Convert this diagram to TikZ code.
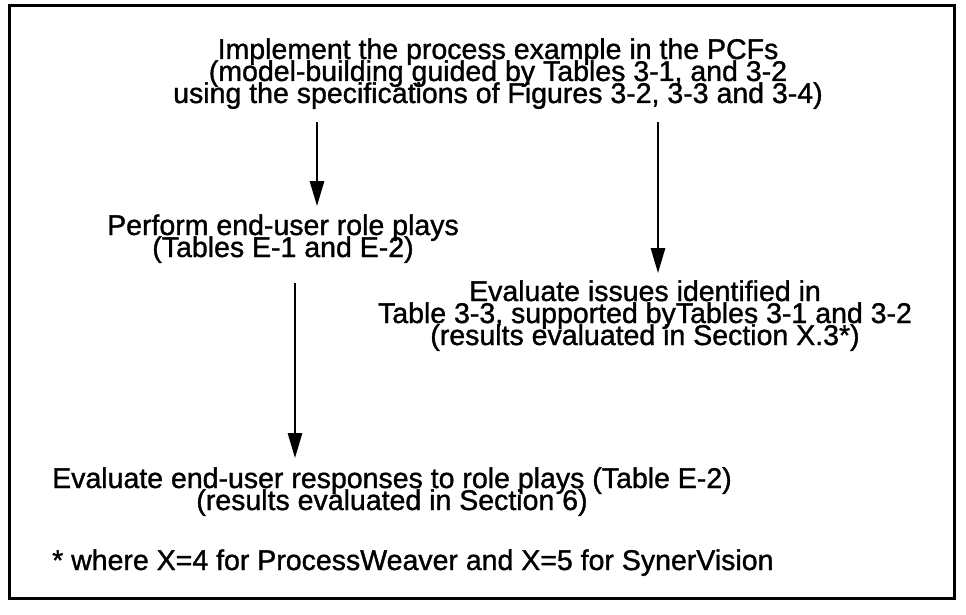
\documentclass[tikz,border=0pt]{standalone}
\usepackage{fontspec}
\setmainfont{Liberation Sans}[FakeBold=1.2]
\usetikzlibrary{arrows.meta}
\tikzset{
  txt/.style={font={\fontsize{28.5}{22}\selectfont\lineskiplimit=-50pt}, align=center, inner sep=0pt},
  flow/.style={line width=2.6pt, -{Triangle[length=25pt,width=14pt]}}
}
\begin{document}
\begin{tikzpicture}[x=1pt,y=-1pt]
      \useasboundingbox (0,0) rectangle (966,615);
      \draw[line width=3pt] (9,6) rectangle (954,598);

      % base anchor sits on the last line
      \node[txt, anchor=base] (impl) at (498,103)
        {Implement the process example in the PCFs\\
         (model-building guided by Tables 3-1, and 3-2\\
         using the specifications of Figures 3-2, 3-3 and 3-4)};
      \node[txt, anchor=base] (roleplay) at (283,257)
        {Perform end-user role plays\\ (Tables E-1 and E-2)};
      \node[txt, anchor=base] (issues) at (645,345)
        {Evaluate issues identified in\\
         Table 3-3, supported byTables 3-1 and 3-2\\
         (results evaluated in Section X.3*)};
      \node[txt, anchor=base west] (responses) at (52,510)
        {Evaluate end-user responses to role plays (Table E-2)\\
         (results evaluated in Section 6)};
      \node[txt, anchor=base west] (note) at (52,570)
        {* where X=4 for ProcessWeaver and X=5 for SynerVision};

      \coordinate (c1) at (317,0);
      \coordinate (c2) at (295,0);
      \coordinate (c3) at (658,0);
      \draw[flow] ([yshift=-13pt]impl.south -| c1) -- ([yshift=8pt]roleplay.north -| c1);
      \draw[flow] ([yshift=-20pt]roleplay.south -| c2) -- ([yshift=9pt]responses.north -| c2);
      \draw[flow] ([yshift=-13pt]impl.south -| c3) -- ([yshift=7pt]issues.north -| c3);
\end{tikzpicture}
\end{document}
